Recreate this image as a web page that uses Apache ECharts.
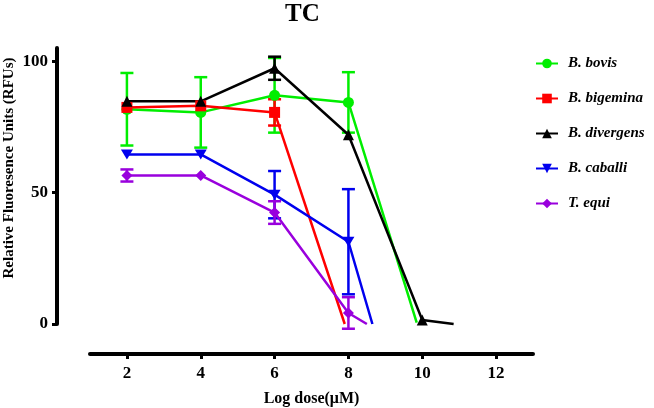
<!DOCTYPE html>
<html>
<head>
<meta charset="utf-8">
<script src="https://cdn.jsdelivr.net/npm/echarts@6/dist/echarts.min.js"></script>
<style>
    html, body { margin: 0; padding: 0; background: #fff; }
    #main { width: 654px; height: 408px; }
</style>
</head>
<body>
<div id="main"></div>
<script>
// values
var doses = [2, 4, 6, 8, 10];
var xTicks = [2, 4, 6, 8, 10, 12];
var yTicks = [0, 50, 100];

var names = ['B. bovis', 'B. bigemina', 'B. divergens', 'B. caballi', 'T. equi'];
var colors = ['#00ee00', '#ff0000', '#000000', '#0000ee', '#9900dd'];
var symbols = ['circle', 'rect', 'triangle', 'path://M0,0 L10,0 L5,9 Z', 'diamond'];

var bovisMean = [81.7, 80.5, 87.0, 84.3];
var bovisErr = [13.8, 13.4, 14.2, 11.5];
var bovisEnd = [9.85, 0.5];

var bigeminaMean = [82.4, 83.0, 80.5];
var bigeminaErr = [0, 0, 5.0];
var bigeminaEnd = [7.9, 0];

var divergensMean = [84.7, 84.7, 97.3, 72.0, 1.5];
var divergensErr = [0, 0, 4.4, 0, 0];
var divergensEnd = [10.85, 0];

var caballiMean = [64.5, 64.5, 49.2, 31.3];
var caballiErr = [0, 0, 9.0, 20.0];
var caballiEnd = [8.65, 0];

var equiMean = [56.5, 56.5, 42.4, 4.2];
var equiErr = [2.3, 0, 4.3, 6.0];
var equiEnd = [8.5, 0];

var means = [bovisMean, bigeminaMean, divergensMean, caballiMean, equiMean];
var errs = [bovisErr, bigeminaErr, divergensErr, caballiErr, equiErr];
var ends = [bovisEnd, bigeminaEnd, divergensEnd, caballiEnd, equiEnd];

var font = 'Liberation Serif';

var myChart = echarts.init(document.getElementById('main'));

function errorSeries(idx) {
    var data = [];
    for (var i = 0; i < means[idx].length; i++) {
        if (errs[idx][i] > 0) {
            data.push([doses[i], means[idx][i] - errs[idx][i], means[idx][i] + errs[idx][i]]);
        }
    }
    return {
        type: 'custom',
        silent: true,
        clip: false,
        data: data,
        renderItem: function (params, api) {
            var lo = api.coord([api.value(0), api.value(1)]);
            var hi = api.coord([api.value(0), api.value(2)]);
            var hw = 6.5;
            var style = { stroke: colors[idx], lineWidth: 2.5 };
            return {
                type: 'group',
                children: [
                    { type: 'line', shape: { x1: lo[0], y1: lo[1], x2: hi[0], y2: hi[1] }, style: style },
                    { type: 'line', shape: { x1: lo[0] - hw, y1: lo[1], x2: lo[0] + hw, y2: lo[1] }, style: style },
                    { type: 'line', shape: { x1: hi[0] - hw, y1: hi[1], x2: hi[0] + hw, y2: hi[1] }, style: style }
                ]
            };
        }
    };
}

function lineSeries(idx) {
    var data = means[idx].map(function (v, i) { return [doses[i], v]; });
    data.push({ value: ends[idx], symbol: 'none' });
    return {
        name: names[idx],
        type: 'line',
        data: data,
        symbol: symbols[idx],
        symbolSize: idx === 3 ? [12, 10] : 11,
        lineStyle: { color: colors[idx], width: 2.5 },
        itemStyle: { color: colors[idx] },
        clip: false
    };
}

var series = [];
for (var k = 0; k < names.length; k++) {
    series.push(errorSeries(k));
    series.push(lineSeries(k));
}

var option = {
    animation: false,
    title: {
        text: 'TC',
        left: 280,
        top: -3,
        textStyle: { fontFamily: font, fontSize: 25, fontWeight: 'bold', color: '#000' }
    },
    legend: {
        data: names,
        orient: 'vertical',
        left: 530,
        top: 51,
        itemWidth: 22,
        itemHeight: 12,
        itemGap: 20,
        textStyle: { fontFamily: font, fontSize: 15, fontWeight: 'bold', fontStyle: 'italic', color: '#000', padding: [0, 0, 0, 5] }
    },
    grid: { left: 90, right: 121, top: 48, bottom: 84, outerBoundsMode: 'none' },
    xAxis: {
        type: 'value',
        min: 1,
        max: 13,
        offset: 30,
        name: 'Log dose(\u03bcM)',
        nameLocation: 'middle',
        nameGap: 37,
        nameMoveOverlap: false,
        nameTextStyle: { fontFamily: font, fontSize: 16, fontWeight: 'bold', color: '#000' },
        axisLine: { onZero: false, lineStyle: { color: '#000', width: 4 } },
        axisTick: { customValues: xTicks, length: 5, lineStyle: { color: '#000', width: 3 } },
        axisLabel: { customValues: xTicks, margin: 11, fontFamily: font, fontSize: 17, fontWeight: 'bold', color: '#000' },
        splitLine: { show: false }
    },
    yAxis: {
        type: 'value',
        min: 0,
        max: 105,
        offset: 33,
        name: 'Relative Fluoresence Units (RFUs)',
        nameLocation: 'middle',
        nameGap: 40,
        nameMoveOverlap: false,
        nameTextStyle: { fontFamily: font, fontSize: 15, fontWeight: 'bold', color: '#000', padding: [0, 0, 0, 36] },
        axisLine: { show: true, onZero: false, lineStyle: { color: '#000', width: 4 } },
        axisTick: { show: true, customValues: yTicks, length: 5, lineStyle: { color: '#000', width: 3 } },
        axisLabel: { customValues: yTicks, margin: 9, fontFamily: font, fontSize: 17, fontWeight: 'bold', color: '#000' },
        splitLine: { show: false }
    },
    series: series
};

myChart.setOption(option);
</script>
</body>
</html>
